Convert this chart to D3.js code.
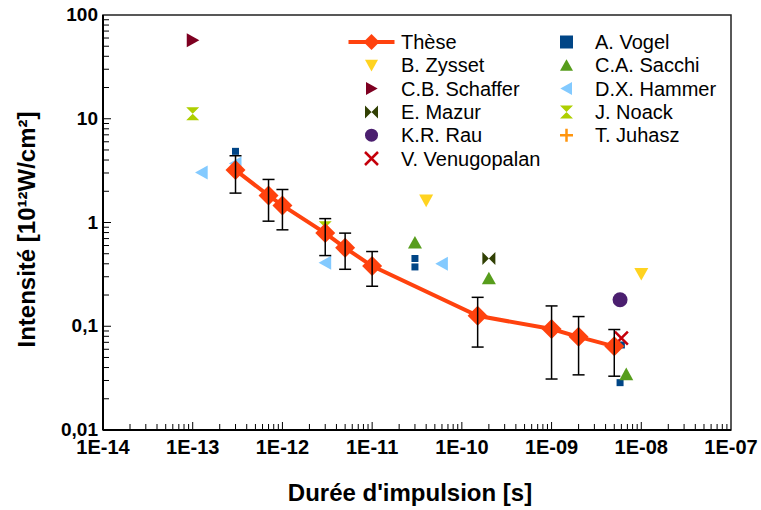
<!DOCTYPE html>
<html lang="fr">

<head>
    <meta charset="UTF-8">
    <title>Intensité vs durée d'impulsion</title>
    <style>
        body {
            margin: 0;
            background: #fff;
        }

        text {
            font-family: "Liberation Sans", Arial, sans-serif;
        }

        .tick-label {
            font-size: 20px;
            font-weight: bold;
        }

        .y-tick {
            font-size: 19px;
        }

        .axis-title {
            font-size: 24px;
            font-weight: bold;
        }

        .legend text {
            font-size: 20px;
        }
    </style>
</head>

<body>
    <svg width="761" height="510"></svg>
    <script src="https://d3js.org/d3.v7.min.js"></script>
    <script>
        // Thèse series (with error bars)
        let theseT = [3e-13, 7e-13, 1e-12, 3e-12, 5e-12, 1e-11, 1.5e-10, 1e-9, 2e-9, 5e-9];
        let theseI = [3.2, 1.82, 1.46, 0.79, 0.57, 0.38, 0.126, 0.094, 0.079, 0.064];
        let theseLo = [1.92, 1.03, 0.85, 0.48, 0.354, 0.243, 0.063, 0.031, 0.034, 0.033];
        let theseHi = [4.4, 2.6, 2.08, 1.09, 0.79, 0.525, 0.19, 0.157, 0.124, 0.093];

        // literature values [duration s, intensity 1e12 W/cm2]
        let vogel = [[3e-13, 4.85], [3e-11, 0.45], [3e-11, 0.373], [5.8e-9, 0.0286], [6e-9, 0.066]];
        let zysset = [[4e-11, 1.63], [1e-8, 0.32]];
        let schaffer = [[1e-13, 57]];
        let mazur = [[2e-10, 0.45]];
        let rau = [[5.8e-9, 0.18]];
        let venugopalan = [[6e-9, 0.077]];
        let sacchi = [[3e-11, 0.64], [2e-10, 0.29], [6.8e-9, 0.0345]];
        let hammer = [[1.26e-13, 3.04], [3e-13, 3.7], [3e-12, 0.41], [6e-11, 0.40]];
        let noack = [[1e-13, 11.2], [3e-12, 0.89]];
        let juhasz = [];

        let xTicks = [1e-14, 1e-13, 1e-12, 1e-11, 1e-10, 1e-9, 1e-8, 1e-7];
        let xTickLabels = ["1E-14", "1E-13", "1E-12", "1E-11", "1E-10", "1E-09", "1E-08", "1E-07"];
        let yTicks = [0.01, 0.1, 1, 10, 100];
        let yTickLabels = ["0,01", "0,1", "1", "10", "100"];

        let series = [
            { name: "A. Vogel", data: vogel, shape: "square", color: "#004586", size: 7 },
            { name: "B. Zysset", data: zysset, shape: "down", color: "#ffd320", size: 14 },
            { name: "C.A. Sacchi", data: sacchi, shape: "up", color: "#579d1c", size: 14 },
            { name: "C.B. Schaffer", data: schaffer, shape: "right", color: "#7e0021", size: 14 },
            { name: "D.X. Hammer", data: hammer, shape: "left", color: "#83caff", size: 14 },
            { name: "E. Mazur", data: mazur, shape: "bowtie", color: "#314004", size: 13 },
            { name: "J. Noack", data: noack, shape: "hourglass", color: "#aecf00", size: 13 },
            { name: "K.R. Rau", data: rau, shape: "circle", color: "#4b1f6f", size: 15 },
            { name: "T. Juhasz", data: juhasz, shape: "plus", color: "#ff950e", size: 14 },
            { name: "V. Venugopalan", data: venugopalan, shape: "x", color: "#c5000b", size: 13 }
        ];

        let svg = d3.select("svg"),
            x0 = 103, x1 = 731, y0 = 430, y1 = 15;

        let x = d3.scaleLog().domain([1e-14, 1e-7]).range([x0, x1]);
        let y = d3.scaleLog().domain([0.01, 100]).range([y0, y1]);

        function shapePath(shape, s) {
            let r = s / 2;
            switch (shape) {
                case "square": return `M${-r},${-r}H${r}V${r}H${-r}Z`;
                case "down": return `M${-r},${-r * 0.85}H${r}L0,${r * 0.95}Z`;
                case "up": return `M${-r},${r * 0.85}H${r}L0,${-r * 0.95}Z`;
                case "right": return `M${-r * 0.85},${-r}V${r}L${r * 0.95},0Z`;
                case "left": return `M${r * 0.85},${-r}V${r}L${-r * 0.95},0Z`;
                case "bowtie": return `M${-r},${-r}L${r},${r}V${-r}L${-r},${r}Z`;
                case "hourglass": return `M${-r},${-r}H${r}L${-r},${r}H${r}Z`;
                case "diamond": return `M0,${-r}L${r},0L0,${r}L${-r},0Z`;
                case "circle": return d3.symbol(d3.symbolCircle, Math.PI * r * r)();
                default: return null;
            }
        }

        function drawMarker(g, shape, color, s) {
            if (shape === "x" || shape === "plus") {
                let r = s / 2;
                let d = shape === "x"
                    ? `M${-r},${-r}L${r},${r}M${r},${-r}L${-r},${r}`
                    : `M${-r},0H${r}M0,${-r}V${r}`;
                g.append("path").attr("d", d).attr("stroke", color)
                    .attr("stroke-width", 2.5).attr("fill", "none");
            } else {
                g.append("path").attr("d", shapePath(shape, s)).attr("fill", color);
            }
        }

        // frame
        svg.append("rect")
            .attr("x", x0).attr("y", y1)
            .attr("width", x1 - x0).attr("height", y0 - y1)
            .attr("fill", "none").attr("stroke", "#222").attr("stroke-width", 1.5);

        // minor + major ticks, pointing inward
        let g = svg.append("g");
        for (let e = -14; e < -7; e++) {
            for (let m = 1; m <= 9; m++) {
                let v = m * Math.pow(10, e);
                g.append("line").attr("x1", x(v)).attr("x2", x(v))
                    .attr("y1", y0).attr("y2", y0 - (m === 1 ? 8 : 6))
                    .attr("stroke", "#000").attr("stroke-width", 1);
            }
        }
        for (let e = -2; e < 2; e++) {
            for (let m = 1; m <= 9; m++) {
                let v = m * Math.pow(10, e);
                g.append("line").attr("y1", y(v)).attr("y2", y(v))
                    .attr("x1", x0).attr("x2", x0 + (m === 1 ? 8 : 6))
                    .attr("stroke", "#000").attr("stroke-width", 1);
            }
        }
        g.append("line").attr("x1", x0).attr("x2", x1).attr("y1", y0).attr("y2", y0)
            .attr("stroke", "#000").attr("stroke-width", 2);
        g.append("line").attr("x1", x0).attr("x2", x0).attr("y1", y0).attr("y2", y1)
            .attr("stroke", "#000").attr("stroke-width", 2);

        // tick labels
        svg.append("g").selectAll("text")
            .data(xTicks)
            .join("text")
            .attr("class", "tick-label")
            .attr("x", d => x(d)).attr("y", y0 + 24)
            .attr("text-anchor", "middle")
            .text((d, i) => xTickLabels[i]);

        svg.append("g").selectAll("text")
            .data(yTicks)
            .join("text")
            .attr("class", "tick-label y-tick")
            .attr("x", x0 - 5).attr("y", d => y(d) + 6)
            .attr("text-anchor", "end")
            .text((d, i) => yTickLabels[i]);

        // axis titles
        svg.append("text").attr("class", "axis-title")
            .attr("x", (x0 + x1) / 2 - 7).attr("y", 501)
            .attr("text-anchor", "middle")
            .text("Durée d'impulsion [s]");

        svg.append("text").attr("class", "axis-title")
            .attr("transform", `translate(35,${(y0 + y1) / 2 + 7}) rotate(-90)`)
            .attr("text-anchor", "middle")
            .text("Intensité [10¹²W/cm²]");

        // scatter series
        series.forEach(s => {
            s.data.forEach(p => {
                let mg = svg.append("g").attr("transform", `translate(${x(p[0])},${y(p[1])})`);
                drawMarker(mg, s.shape, s.color, s.size);
            });
        });

        // Thèse
        let these = theseT.map((t, i) => ({ t: t, v: theseI[i], lo: theseLo[i], hi: theseHi[i] }));
        let tg = svg.append("g");
        tg.append("path")
            .datum(these)
            .attr("fill", "none")
            .attr("stroke", "#ff420e")
            .attr("stroke-width", 4)
            .attr("d", d3.line().x(d => x(d.t)).y(d => y(d.v)));

        tg.selectAll(".diam")
            .data(these)
            .join("path")
            .attr("class", "diam")
            .attr("transform", d => `translate(${x(d.t)},${y(d.v)})`)
            .attr("d", shapePath("diamond", 20))
            .attr("fill", "#ff420e");

        let eb = tg.selectAll(".err").data(these).join("g").attr("class", "err")
            .attr("stroke", "#000").attr("stroke-width", 1.5);
        eb.append("line").attr("x1", d => x(d.t)).attr("x2", d => x(d.t))
            .attr("y1", d => y(d.lo)).attr("y2", d => y(d.hi));
        eb.append("line").attr("x1", d => x(d.t) - 6).attr("x2", d => x(d.t) + 6)
            .attr("y1", d => y(d.lo)).attr("y2", d => y(d.lo));
        eb.append("line").attr("x1", d => x(d.t) - 6).attr("x2", d => x(d.t) + 6)
            .attr("y1", d => y(d.hi)).attr("y2", d => y(d.hi));

        // legend
        let legendOrder = [
            ["Thèse", "A. Vogel"],
            ["B. Zysset", "C.A. Sacchi"],
            ["C.B. Schaffer", "D.X. Hammer"],
            ["E. Mazur", "J. Noack"],
            ["K.R. Rau", "T. Juhasz"],
            ["V. Venugopalan", null]
        ];
        let lg = svg.append("g").attr("class", "legend");
        legendOrder.forEach((row, ri) => {
            let ly = 42 + ri * 23.3;
            row.forEach((name, ci) => {
                if (!name) return;
                let mx = ci === 0 ? 371.5 : 566.5;
                let tx = ci === 0 ? 401 : 595;
                let mg = lg.append("g").attr("transform", `translate(${mx},${ly})`);
                if (name === "Thèse") {
                    mg.append("line").attr("x1", -23).attr("x2", 23)
                        .attr("stroke", "#ff420e").attr("stroke-width", 4);
                    mg.append("path").attr("d", shapePath("diamond", 16)).attr("fill", "#ff420e");
                } else {
                    let s = series.find(d => d.name === name);
                    drawMarker(mg, s.shape, s.color, 13);
                }
                lg.append("text").attr("x", tx).attr("y", ly + 7).text(name);
            });
        });
    </script>

</body>

</html>
